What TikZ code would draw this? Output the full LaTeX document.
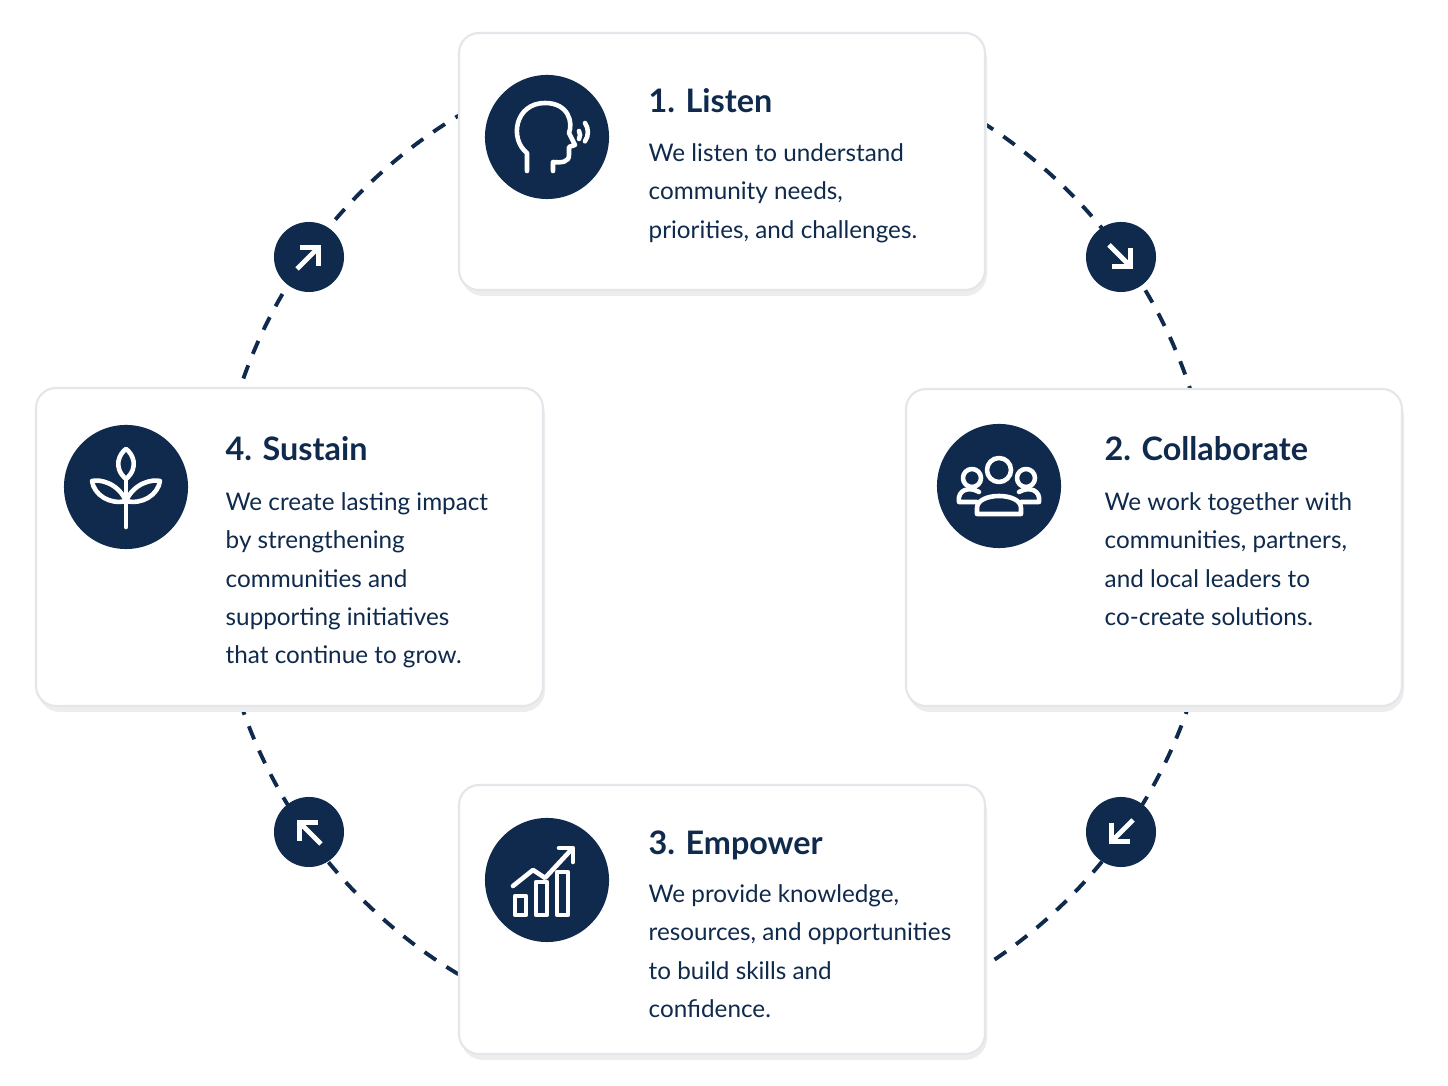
\documentclass[tikz,border=0pt]{standalone}
\usepackage{fontspec}
\setmainfont{Lato}
\usetikzlibrary{arrows.meta,positioning,calc}
\definecolor{navy}{HTML}{0F2A4C}
\definecolor{cardline}{HTML}{E3E6EA}
\tikzset{
  card/.style={draw=cardline,line width=0.6pt,fill=white,rounded corners=0.2cm},
  shade/.style={fill=black!7,rounded corners=0.22cm},
  badge/.style={circle,fill=navy,minimum size=1.24cm,inner sep=0pt},
  dot/.style={circle,fill=navy,minimum size=0.7cm,inner sep=0pt},
  title/.style={anchor=west,font=\bfseries\fontsize{9.2}{11}\selectfont,text=navy,inner sep=0pt},
  body/.style={anchor=north west,font=\fontsize{6.9}{10.9}\selectfont,text=navy,align=left,inner sep=0pt},
  ico/.style={draw=white,line width=1.3pt,line cap=round,line join=round},
  tip/.style={draw=white,line width=1.4pt,-{Straight Barb[length=1.3mm,width=2.6mm]}},
}
\begin{document}
\begin{tikzpicture}[x=0.01cm,y=-0.01cm]
\useasboundingbox[fill=white] (0,0) rectangle (1448,1086);
% cycle
\draw[navy,line width=1.1pt,dash pattern=on 4pt off 3.5pt] (715,545) circle (500);
% cards
\foreach \a/\b/\c/\d in {459/33/985/290,906/389/1402/706,459/785/985/1054,36/388/543/706}{
  \fill[shade] (\a+2,\b+5) rectangle (\c+2,\d+6);
  \draw[card] (\a,\b) rectangle (\c,\d);
}
% icon badges
\node[badge] (listen) at (547,137) {};
\node[badge] (collab) at (999,486) {};
\node[badge] (empower) at (547,880) {};
\node[badge] (sustain) at (126,487) {};
% direction dots
\node[dot] (ne) at (309,257) {};
\node[dot] (se) at (1121,257) {};
\node[dot] (sw) at (1121,832) {};
\node[dot] (nw) at (309,832) {};
\draw[tip] ($(ne)+(-12,12)$) -- ($(ne)+(12,-12)$);
\draw[tip] ($(se)+(-12,-12)$) -- ($(se)+(12,12)$);
\draw[tip] ($(sw)+(12,-12)$) -- ($(sw)+(-12,12)$);
\draw[tip] ($(nw)+(12,12)$) -- ($(nw)+(-12,-12)$);
% icons
\begin{scope}[shift={(listen.center)}]
  \draw[ico] (-20,34) -- (-20,16) .. controls (-38,2) and (-32,-34) .. (-2,-34)
    .. controls (22,-34) and (26,-14) .. (22,-4) -- (28,8) -- (22,10) -- (22,18)
    .. controls (22,25) and (15,26) .. (6,25) -- (6,34);
  \draw[ico] (32,-6) arc (-30:30:8);
  \draw[ico] (38,-14) arc (-35:35:16);
\end{scope}
\begin{scope}[shift={(collab.center)}]
  \draw[ico] (0,-16) circle (12);
  \draw[ico] (-27,-8) circle (9);
  \draw[ico] (27,-8) circle (9);
  \draw[ico] (-22,28) -- (-22,22) .. controls (-22,6) and (22,6) .. (22,22) -- (22,28) -- cycle;
  \draw[ico] (-22,16) -- (-40,16) .. controls (-42,4) and (-30,0) .. (-20,6);
  \draw[ico] (22,16) -- (40,16) .. controls (42,4) and (30,0) .. (20,6);
\end{scope}
\begin{scope}[shift={(empower.center)}]
  \draw[ico] (-32,16) rectangle (-21,35);
  \draw[ico] (-11,2) rectangle (0,35);
  \draw[ico] (10,-8) rectangle (21,35);
  \draw[ico] (-34,6) -- (-14,-10) -- (-2,-2) -- (24,-30);
  \draw[ico] (12,-32) -- (26,-32) -- (26,-18);
\end{scope}
\begin{scope}[shift={(sustain.center)}]
  \draw[ico] (0,40) -- (0,-8);
  \draw[ico] (0,-8) .. controls (-14,-20) and (-6,-34) .. (0,-38) .. controls (6,-34) and (14,-20) .. (0,-8);
  \draw[ico] (0,14) .. controls (-8,-4) and (-26,-8) .. (-34,-6) .. controls (-32,8) and (-16,18) .. (0,14);
  \draw[ico] (0,14) .. controls (8,-4) and (26,-8) .. (34,-6) .. controls (32,8) and (16,18) .. (0,14);
\end{scope}
% texts
\node[title] (t1) at (648,101) {1. Listen};
\node[body] (b1) at (648,143) {We listen to understand\\community needs,\\priorities, and challenges.};
\node[title] (t2) at (1104,449) {2. Collaborate};
\node[body] (b2) at (1104,492) {We work together with\\communities, partners,\\and local leaders to\\co-create solutions.};
\node[title] (t3) at (648,845) {3. Empower};
\node[body] (b3) at (648,884) {We provide knowledge,\\resources, and opportunities\\to build skills and\\confidence.};
\node[title] (t4) at (225,449) {4. Sustain};
\node[body] (b4) at (225,492) {We create lasting impact\\by strengthening\\communities and\\supporting initiatives\\that continue to grow.};
\end{tikzpicture}
\end{document}
